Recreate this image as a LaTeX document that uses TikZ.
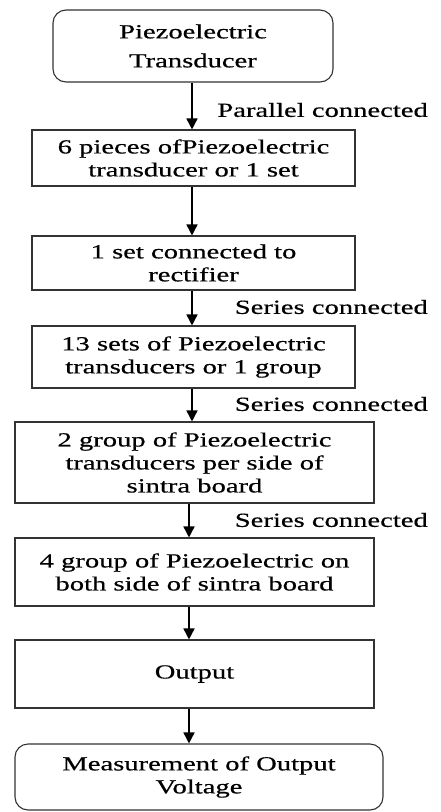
\documentclass[tikz,border=0pt]{standalone}
\usepackage{fontspec}
\setmainfont[FakeStretch=1.43,FakeBold=0.5]{Liberation Serif}
\usetikzlibrary{arrows.meta}
\begin{document}
\begin{tikzpicture}[x=1pt,y=1pt,
  box/.style={draw=black!80, line width=1.1pt, inner sep=0pt, align=center,
    font=\fontsize{20}{23}\selectfont},
  rbox/.style={box, rounded corners=13pt},
  arr/.style={draw=black, line width=1.6pt, -{Triangle[length=11pt,width=11pt]}},
  lbl/.style={inner sep=0pt, anchor=east, font=\fontsize{20}{23}\selectfont}]
\useasboundingbox[fill=white] (0,0) rectangle (441,-812);
\node[rbox, minimum width=280pt, minimum height=72pt, font=\fontsize{20}{29}\selectfont] (b1) at (193,-46) {Piezoelectric\\Transducer};
\node[box, minimum width=323pt, minimum height=56pt] (b2) at (193.5,-158) {6 pieces ofPiezoelectric\\transducer or 1 set};
\node[box, minimum width=323pt, minimum height=54pt] (b3) at (193.5,-263) {1 set connected to\\rectifier};
\node[box, minimum width=323pt, minimum height=62pt] (b4) at (193.5,-357) {13 sets of Piezoelectric\\transducers or 1 group};
\node[box, minimum width=359pt, minimum height=81pt] (b5) at (194.5,-462.5) {2 group of Piezoelectric\\transducers per side of\\sintra board};
\node[box, minimum width=359pt, minimum height=68pt] (b6) at (194.5,-572) {4 group of Piezoelectric on\\both side of sintra board};
\node[box, minimum width=359pt, minimum height=68pt] (b7) at (194.5,-674) {Output};
\node[rbox, minimum width=368pt, minimum height=66pt] (b8) at (199,-777) {Measurement of Output\\Voltage};
\coordinate (ax1) at (192,0);
\coordinate (ax2) at (189,0);
\draw[arr] (b1.south -| ax1) -- (b2.north -| ax1);
\draw[arr] (b2.south -| ax1) -- (b3.north -| ax1);
\draw[arr] (b3.south -| ax1) -- (b4.north -| ax1);
\draw[arr] (b4.south -| ax1) -- (b5.north -| ax1);
\draw[arr] (b5.south -| ax2) -- (b6.north -| ax2);
\draw[arr] (b6.south -| ax2) -- (b7.north -| ax2);
\draw[arr] (b7.south -| ax2) -- (b8.north -| ax2);
\node[lbl] (l1) at (428,-110) {Parallel connected};
\node[lbl] (l2) at (428,-307) {Series connected};
\node[lbl] (l3) at (428,-404) {Series connected};
\node[lbl] (l4) at (428,-520) {Series connected};
\end{tikzpicture}
\end{document}
